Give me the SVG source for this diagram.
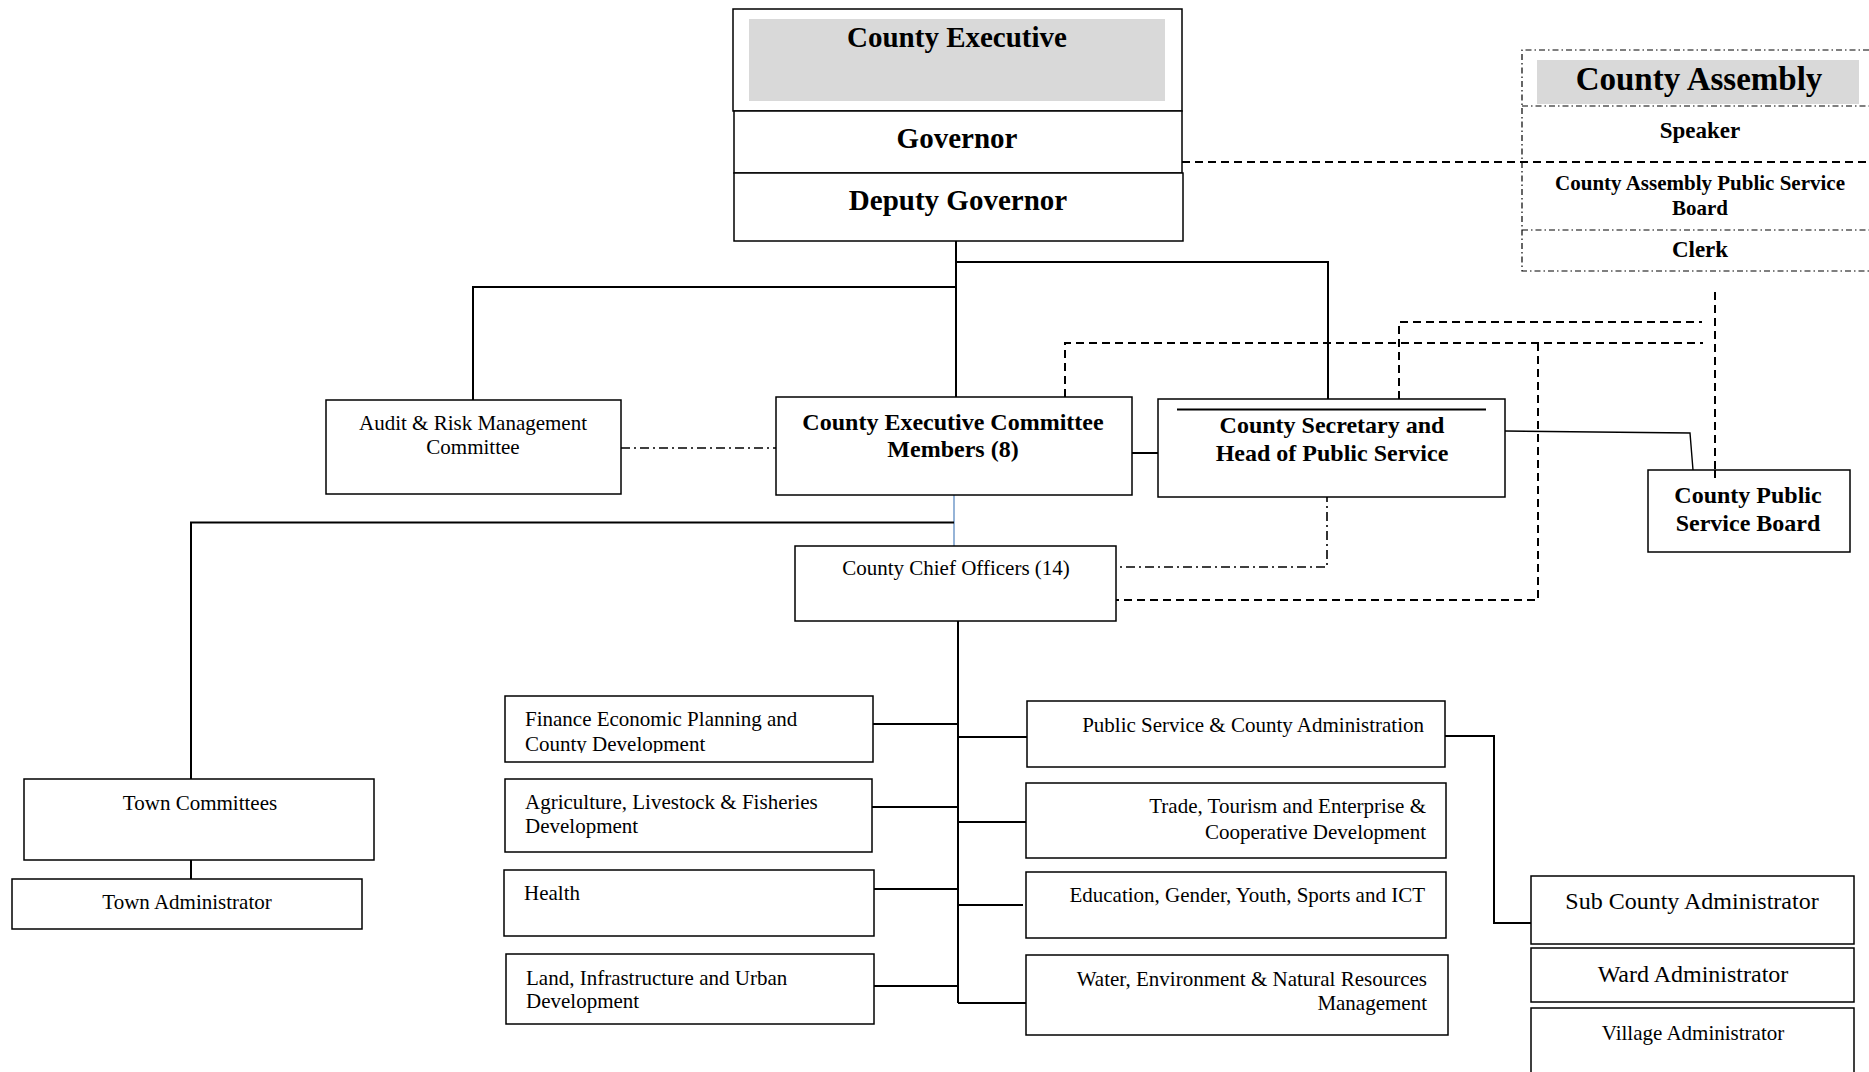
<svg xmlns="http://www.w3.org/2000/svg" width="1869" height="1072" viewBox="0 0 1869 1072">
<style>
.box{fill:#fff;stroke:#000;stroke-width:1.5}
.t{font-family:"Liberation Serif","Times New Roman",serif;font-size:21px;fill:#000}
.t24{font-size:24px}
.b{font-family:"Liberation Serif","Times New Roman",serif;font-weight:bold;fill:#000}
.c{text-anchor:middle}
.e{text-anchor:end}
.ln{fill:none;stroke:#000;stroke-width:2}
.dash{fill:none;stroke:#000;stroke-width:2;stroke-dasharray:8 5}
.dd{fill:none;stroke:#000;stroke-width:1.6;stroke-dasharray:9 4 2 4}
.ad{fill:none;stroke:#000;stroke-width:1.2;stroke-dasharray:6 3 1.5 3}
</style>
<defs>
<clipPath id="finClip"><rect x="505" y="696" width="368" height="57"/></clipPath>
</defs>
<rect width="1869" height="1072" fill="#fff"/>

<g id="connectors">
<path class="ln" d="M956 241 V397"/>
<path class="ln" d="M956 262 H1328 V399"/>
<path class="ln" d="M956 287 H473 V400"/>
<path class="dd" d="M621 448 H776"/>
<path class="ln" d="M1132 453 H1158"/>
<path d="M954 495 V546" fill="none" stroke="#4f81bd" stroke-width="1.2"/>
<path class="ln" d="M954 522.5 H191 V779"/>
<path class="ln" d="M191 860 V879"/>
<path class="dash" d="M1182 162 H1869"/>
<path class="dash" d="M1065 397 V343 H1703"/>
<path class="dash" d="M1399 399 V322 H1702"/>
<path class="dash" d="M1715 292 V482"/>
<path class="dash" d="M1538 343 V600 H1116"/>
<path class="dd" d="M1327 493 V567 H1116"/>
<path fill="none" stroke="#000" stroke-width="1.4" d="M1505 431 L1690 433 L1693 470"/>
<path class="ln" d="M958 621 V1003"/>
<path class="ln" d="M873 724 H958 M872 807 H958 M874 889 H958 M874 986 H958"/>
<path class="ln" d="M958 737 H1027 M958 822 H1026 M958 905 H1023 M958 1003 H1026"/>
<path class="ln" d="M1445 736 H1494 V923 H1531"/>
</g>

<g id="county-executive">
<rect class="box" x="733" y="9" width="449" height="102"/>
<rect x="749" y="19" width="416" height="82" fill="#d9d9d9"/>
<text class="b c" x="957" y="47" font-size="29">County Executive</text>
</g>
<g id="governor">
<rect class="box" x="734" y="111" width="448" height="62"/>
<text class="b c" x="957" y="148" font-size="29">Governor</text>
</g>
<g id="deputy-governor">
<rect class="box" x="734" y="173" width="449" height="68"/>
<text class="b c" x="958" y="210" font-size="29">Deputy Governor</text>
</g>

<g id="county-assembly">
<rect x="1537" y="60" width="322" height="44" fill="#d9d9d9"/>
<path class="ad" d="M1869 50 H1522 V271 H1869 M1522 106 H1869 M1522 230 H1869"/>
<text class="b c" x="1699" y="90" font-size="33">County Assembly</text>
<text class="b c" x="1700" y="138" font-size="23">Speaker</text>
<text class="b c" x="1700" y="190" font-size="21">County Assembly Public Service</text>
<text class="b c" x="1700" y="215" font-size="21">Board</text>
<text class="b c" x="1700" y="257" font-size="23">Clerk</text>
</g>

<g id="audit">
<rect class="box" x="326" y="400" width="295" height="94"/>
<text class="t c" x="473" y="430">Audit &amp; Risk Management</text>
<text class="t c" x="473" y="454">Committee</text>
</g>

<g id="cec">
<rect class="box" x="776" y="397" width="356" height="98"/>
<text class="b c" x="953" y="430" font-size="24">County Executive Committee</text>
<text class="b c" x="953" y="457" font-size="24">Members (8)</text>
</g>

<g id="county-secretary">
<rect class="box" x="1158" y="399" width="347" height="98"/>
<path d="M1177 409.5 H1486" stroke="#000" stroke-width="2.2"/>
<text class="b c" x="1332" y="433" font-size="24">County Secretary and</text>
<text class="b c" x="1332" y="461" font-size="24">Head of Public Service</text>
</g>

<g id="cpsb">
<rect class="box" x="1648" y="470" width="202" height="82"/>
<path class="dash" d="M1715 470 V482"/>
<text class="b c" x="1748" y="503" font-size="24">County Public</text>
<text class="b c" x="1748" y="531" font-size="24">Service Board</text>
</g>

<g id="chief-officers">
<rect class="box" x="795" y="546" width="321" height="75"/>
<text class="t c" x="956" y="575">County Chief Officers (14)</text>
</g>

<g id="town-committees">
<rect class="box" x="24" y="779" width="350" height="81"/>
<text class="t c" x="200" y="810">Town Committees</text>
</g>
<g id="town-administrator">
<rect class="box" x="12" y="879" width="350" height="50"/>
<text class="t c" x="187" y="909">Town Administrator</text>
</g>

<g id="finance">
<rect class="box" x="505" y="696" width="368" height="66"/>
<g clip-path="url(#finClip)">
<text class="t" x="525" y="726">Finance Economic Planning and</text>
<text class="t" x="525" y="751">County Development</text>
</g>
</g>
<g id="agriculture">
<rect class="box" x="505" y="779" width="367" height="73"/>
<text class="t" x="525" y="809">Agriculture, Livestock &amp; Fisheries</text>
<text class="t" x="525" y="833">Development</text>
</g>
<g id="health">
<rect class="box" x="504" y="870" width="370" height="66"/>
<text class="t" x="524" y="900">Health</text>
</g>
<g id="land">
<rect class="box" x="506" y="954" width="368" height="70"/>
<text class="t" x="526" y="985">Land, Infrastructure and Urban</text>
<text class="t" x="526" y="1008">Development</text>
</g>

<g id="public-service">
<rect class="box" x="1027" y="701" width="418" height="66"/>
<text class="t e" x="1424" y="732">Public Service &amp; County Administration</text>
</g>
<g id="trade">
<rect class="box" x="1026" y="783" width="420" height="75"/>
<text class="t e" x="1426" y="813">Trade, Tourism and Enterprise &amp;</text>
<text class="t e" x="1426" y="839">Cooperative Development</text>
</g>
<g id="education">
<rect class="box" x="1026" y="872" width="420" height="66"/>
<text class="t e" x="1425" y="902">Education, Gender, Youth, Sports and ICT</text>
</g>
<g id="water">
<rect class="box" x="1026" y="955" width="422" height="80"/>
<text class="t e" x="1427" y="986">Water, Environment &amp; Natural Resources</text>
<text class="t e" x="1427" y="1010">Management</text>
</g>

<g id="sub-county-administrator">
<rect class="box" x="1531" y="876" width="323" height="68"/>
<text class="t t24 c" x="1692" y="909">Sub County Administrator</text>
</g>
<g id="ward-administrator">
<rect class="box" x="1531" y="948" width="323" height="54"/>
<text class="t t24 c" x="1693" y="982">Ward Administrator</text>
</g>
<g id="village-administrator">
<rect class="box" x="1531" y="1008" width="323" height="80"/>
<text class="t c" x="1693" y="1040">Village Administrator</text>
</g>
</svg>
